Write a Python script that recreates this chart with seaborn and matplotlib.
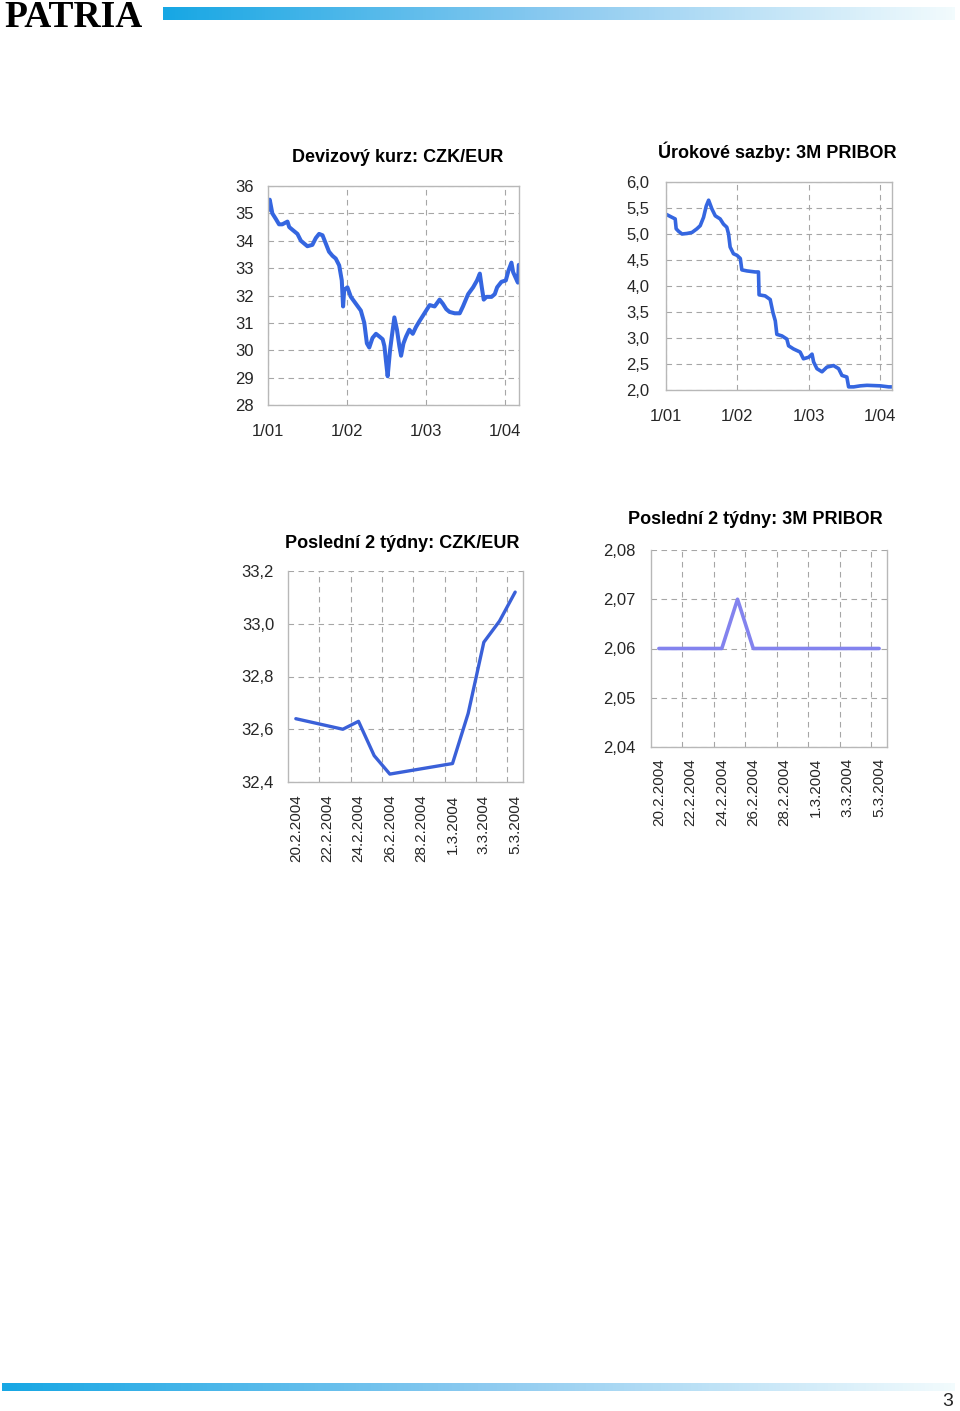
import numpy as np
import pandas as pd
import matplotlib
matplotlib.use('Agg')
import matplotlib.pyplot as plt
from matplotlib.colors import LinearSegmentedColormap
import seaborn as sns

# CZK/EUR since 2001
czk_dates = ['2001-01-01', '2001-01-09', '2001-01-21', '2001-02-06', '2001-02-21', '2001-03-08',
             '2001-04-01', '2001-04-09', '2001-04-24', '2001-05-17', '2001-06-02', '2001-06-17',
             '2001-07-02', '2001-07-25', '2001-08-10', '2001-08-25', '2001-09-10', '2001-09-25',
             '2001-10-10', '2001-10-26', '2001-11-10', '2001-11-26', '2001-12-08', '2001-12-14',
             '2001-12-19', '2002-01-03', '2002-01-19', '2002-02-11', '2002-03-06', '2002-03-22',
             '2002-04-03', '2002-04-14', '2002-04-29', '2002-05-15', '2002-05-31', '2002-06-15',
             '2002-06-23', '2002-07-01', '2002-07-08', '2002-07-19', '2002-07-28', '2002-08-08',
             '2002-08-20', '2002-08-31', '2002-09-08', '2002-09-19', '2002-10-01', '2002-10-16',
             '2002-11-01', '2002-11-16', '2002-12-01', '2002-12-25', '2003-01-18', '2003-02-10',
             '2003-03-05', '2003-03-20', '2003-04-05', '2003-04-20', '2003-05-14', '2003-06-06',
             '2003-06-21', '2003-07-15', '2003-08-07', '2003-08-25', '2003-09-07', '2003-09-16',
             '2003-09-25', '2003-10-08', '2003-10-31', '2003-11-15', '2003-11-26', '2003-12-16',
             '2004-01-05', '2004-01-17', '2004-01-31', '2004-02-08', '2004-02-20', '2004-03-01',
             '2004-03-05']
czk_values = [35.1, 35.5, 35.0, 34.8, 34.6, 34.6,
              34.7, 34.5, 34.4, 34.25, 34.0, 33.9,
              33.8, 33.85, 34.1, 34.25, 34.2, 33.9,
              33.6, 33.45, 33.35, 33.1, 32.55, 31.6,
              32.2, 32.3, 31.95, 31.7, 31.45, 31.0,
              30.25, 30.1, 30.45, 30.6, 30.5, 30.4,
              30.15, 29.55, 29.05, 30.0, 30.55, 31.2,
              30.75, 30.15, 29.8, 30.25, 30.5, 30.75,
              30.6, 30.85, 31.05, 31.35, 31.65, 31.6,
              31.85, 31.7, 31.5, 31.4, 31.35, 31.35,
              31.6, 32.05, 32.3, 32.55, 32.8, 32.3,
              31.85, 31.95, 31.95, 32.05, 32.3, 32.5,
              32.55, 32.9, 33.2, 32.85, 32.64, 32.47,
              33.12]

# 3M PRIBOR since 2001
pribor_dates = ['2001-01-01', '2001-02-01', '2001-02-17', '2001-02-22', '2001-03-07', '2001-03-24',
                '2001-04-18', '2001-05-14', '2001-06-08', '2001-06-25', '2001-07-12', '2001-07-26',
                '2001-08-07', '2001-08-24', '2001-09-10', '2001-10-05', '2001-10-22', '2001-11-08',
                '2001-11-17', '2001-11-25', '2001-12-12', '2001-12-30', '2002-01-16', '2002-01-24',
                '2002-02-19', '2002-04-02', '2002-04-19', '2002-04-22', '2002-05-23', '2002-06-18',
                '2002-07-02', '2002-07-14', '2002-07-22', '2002-08-17', '2002-09-11', '2002-09-20',
                '2002-10-15', '2002-11-18', '2002-12-05', '2003-01-01', '2003-01-18', '2003-01-26',
                '2003-02-12', '2003-03-10', '2003-04-04', '2003-05-08', '2003-06-03', '2003-06-20',
                '2003-07-15', '2003-07-24', '2003-08-19', '2003-09-22', '2003-10-26', '2004-01-02',
                '2004-02-14', '2004-03-01']
pribor_values = [5.38, 5.32, 5.29, 5.10, 5.05, 5.00,
                 5.01, 5.03, 5.10, 5.16, 5.32, 5.54,
                 5.65, 5.48, 5.35, 5.29, 5.19, 5.13,
                 5.00, 4.75, 4.62, 4.59, 4.53, 4.31,
                 4.29, 4.27, 4.27, 3.83, 3.81, 3.74,
                 3.49, 3.33, 3.07, 3.04, 2.98, 2.85,
                 2.79, 2.73, 2.60, 2.63, 2.69, 2.54,
                 2.41, 2.35, 2.44, 2.47, 2.41, 2.28,
                 2.25, 2.06, 2.06, 2.08, 2.09, 2.08,
                 2.06, 2.06]

year_ticks = ['2001-01-01', '2002-01-01', '2003-01-01', '2004-01-01']
year_labels = ['1/01', '1/02', '1/03', '1/04']

# last two weeks
week_dates = ['20.2.2004', '23.2.2004', '24.2.2004', '25.2.2004', '26.2.2004', '27.2.2004',
              '1.3.2004', '2.3.2004', '3.3.2004', '4.3.2004', '5.3.2004']
week_czk = [32.64, 32.60, 32.63, 32.50, 32.43, 32.44, 32.47, 32.66, 32.93, 33.01, 33.12]
week_pribor = [2.06, 2.06, 2.06, 2.07, 2.06, 2.06, 2.06, 2.06, 2.06, 2.06, 2.06]
week_labels = ['20.2.2004', '22.2.2004', '24.2.2004', '26.2.2004', '28.2.2004',
               '1.3.2004', '3.3.2004', '5.3.2004']

czk_ticks = [28, 29, 30, 31, 32, 33, 34, 35, 36]
pribor_ticks = [2.0, 2.5, 3.0, 3.5, 4.0, 4.5, 5.0, 5.5, 6.0]
pribor_tick_labels = ['2,0', '2,5', '3,0', '3,5', '4,0', '4,5', '5,0', '5,5', '6,0']
week_czk_ticks = [32.4, 32.6, 32.8, 33.0, 33.2]
week_czk_labels = ['32,4', '32,6', '32,8', '33,0', '33,2']
week_pribor_ticks = [2.04, 2.05, 2.06, 2.07, 2.08]
week_pribor_labels = ['2,04', '2,05', '2,06', '2,07', '2,08']

sns.set_theme(style='white')
plt.rcParams['font.family'] = ['Liberation Sans', 'DejaVu Sans']

W, H = 960, 1411
fig = plt.figure(figsize=(W / 100, H / 100), dpi=100)
fig.patch.set_facecolor('white')

GRID = '#a6a6a6'
FRAME = '#b8b8b8'


def px_axes(l, t, r, b):
    return fig.add_axes([l / W, 1 - b / H, (r - l) / W, (b - t) / H])


def frame(ax, top=True):
    for s in ax.spines.values():
        s.set_color(FRAME)
        s.set_linewidth(1)
    ax.spines['top'].set_visible(top)
    ax.set_xlabel('')
    ax.set_ylabel('')
    ax.grid(True, axis='y', color=GRID, linestyle=(0, (5, 4)), linewidth=0.8)


def title(x, y, txt):
    fig.text(x / W, 1 - y / H, txt, ha='center', va='center', fontsize=13,
             fontweight='bold', color='black')


# header / footer
cmap = LinearSegmentedColormap.from_list('bar', ['#17a7e4', '#8ccaf0', '#f2fbfd'])
grad = np.linspace(0, 1, 256)[None, :]
for l, t, r, b in [(163, 7, 955, 20), (2, 1383, 955, 1391)]:
    bar = px_axes(l, t, r, b)
    bar.imshow(grad, aspect='auto', cmap=cmap)
    bar.axis('off')
fig.text(4 / W, 1 - 27 / H, 'PATRIA', family='Liberation Serif', fontsize=27,
         fontweight='bold', va='baseline', ha='left', color='black')
fig.text(953 / W, 1 - 1402 / H, '3', fontsize=14, ha='right', va='center')

# chart 1: CZK/EUR
ax1 = px_axes(268, 186, 519, 405)
df1 = pd.DataFrame({'date': pd.to_datetime(czk_dates), 'value': czk_values})
sns.lineplot(data=df1, x='date', y='value', ax=ax1, color='#3566e0', linewidth=2.9)
frame(ax1)
ax1.set_ylim(28, 36)
ax1.set_yticks(czk_ticks)
ax1.set_xlim(pd.Timestamp('2001-01-01'), pd.Timestamp('2004-03-06'))
ax1.set_xticks(pd.to_datetime(year_ticks))
ax1.set_xticklabels(year_labels)
ax1.grid(True, axis='x', color=GRID, linestyle=(0, (5, 4)), linewidth=0.8)
ax1.tick_params(axis='y', length=3, color=FRAME, pad=7, labelsize=12)
ax1.tick_params(axis='x', length=0, pad=14, labelsize=12)
title(398, 158, 'Devizový kurz: CZK/EUR')

# chart 2: 3M PRIBOR
ax2 = px_axes(666, 182, 892, 390)
df2 = pd.DataFrame({'date': pd.to_datetime(pribor_dates), 'value': pribor_values})
sns.lineplot(data=df2, x='date', y='value', ax=ax2, color='#3566e0', linewidth=2.6)
frame(ax2)
ax2.set_ylim(2.0, 6.0)
ax2.set_yticks(pribor_ticks)
ax2.set_yticklabels(pribor_tick_labels)
ax2.set_xlim(pd.Timestamp('2001-01-01'), pd.Timestamp('2004-03-02'))
ax2.set_xticks(pd.to_datetime(year_ticks))
ax2.set_xticklabels(year_labels)
ax2.grid(True, axis='x', color=GRID, linestyle=(0, (5, 4)), linewidth=0.8)
ax2.tick_params(axis='y', length=3, color=FRAME, pad=9, labelsize=12)
ax2.tick_params(axis='x', length=0, pad=14, labelsize=12)
title(777, 152, 'Úrokové sazby: 3M PRIBOR')

# charts 3 and 4: last two weeks
wd = pd.to_datetime(week_dates, format='%d.%m.%Y')
wl = pd.to_datetime(week_labels, format='%d.%m.%Y')
minor = wl[:-1] + pd.Timedelta(hours=36)
xlim = (pd.Timestamp('2004-02-19 12:00'), pd.Timestamp('2004-03-05 12:00'))

ax3 = px_axes(288, 571, 523, 782)
df3 = pd.DataFrame({'date': wd, 'value': week_czk})
sns.lineplot(data=df3, x='date', y='value', ax=ax3, color='#3a60d8', linewidth=2.4)
frame(ax3, top=False)
ax3.set_ylim(32.4, 33.2)
ax3.set_yticks(week_czk_ticks)
ax3.set_yticklabels(week_czk_labels)
ax3.tick_params(axis='y', length=3, color=FRAME, pad=7, labelsize=12)
title(402, 543, 'Poslední 2 týdny: CZK/EUR')

ax4 = px_axes(651, 550, 887, 747)
df4 = pd.DataFrame({'date': wd, 'value': week_pribor})
sns.lineplot(data=df4, x='date', y='value', ax=ax4, color='#8383ee', linewidth=2.6)
frame(ax4, top=False)
ax4.set_ylim(2.04, 2.08)
ax4.set_yticks(week_pribor_ticks)
ax4.set_yticklabels(week_pribor_labels)
ax4.tick_params(axis='y', length=3, color=FRAME, pad=8, labelsize=12)
title(755, 520, 'Poslední 2 týdny: 3M PRIBOR')

for ax, pad in [(ax3, 9), (ax4, 8)]:
    ax.set_xlim(*xlim)
    ax.set_xticks(wl)
    ax.set_xticklabels(week_labels, rotation=90)
    ax.set_xticks(minor, minor=True)
    ax.grid(True, axis='x', which='minor', color=GRID, linestyle=(0, (5, 4)), linewidth=0.8)
    ax.grid(False, axis='x', which='major')
    ax.tick_params(axis='x', which='both', length=0, pad=pad, labelsize=11)

fig.savefig('out.png', dpi=100)
